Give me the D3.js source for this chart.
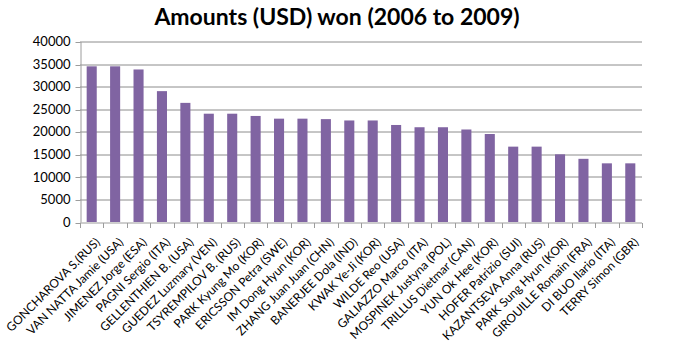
<!DOCTYPE html>
<html>
<head>
<meta charset="utf-8">
<script src="https://cdn.jsdelivr.net/npm/d3@7"></script>
<style>
  body { margin: 0; background: #fff; }
  text { font-family: Lato, "Open Sans", sans-serif; fill: #000; }
</style>
</head>
<body>
<div id="chart"></div>
<script>
const players = [
  'GONCHAROVA S.(RUS)', 'VAN NATTA Jamie (USA)', 'JIMENEZ Jorge (ESA)', 'PAGNI Sergio (ITA)',
  'GELLENTHIEN B. (USA)', 'GUEDEZ Luzmary (VEN)', 'TSYREMPILOV B. (RUS)', 'PARK Kyung Mo (KOR)',
  'ERICSSON Petra (SWE)', 'IM Dong Hyun (KOR)', 'ZHANG Juan Juan (CHN)', 'BANERJEE Dola (IND)',
  'KWAK Ye-Ji (KOR)', 'WILDE Reo (USA)', 'GALIAZZO Marco (ITA)', 'MOSPINEK Justyna (POL)',
  'TRILLUS Dietmar (CAN)', 'YUN Ok Hee (KOR)', 'HOFER Patrizio (SUI)', 'KAZANTSEVA Anna (RUS)',
  'PARK Sung Hyun (KOR)', 'GIROUILLE Romain (FRA)', 'DI BUO Ilario (ITA)', 'TERRY Simon (GBR)'
]
const amounts = [
  34500, 34500, 33800, 29000, 26400, 24000, 24000, 23500,
  22900, 22900, 22800, 22500, 22500, 21500, 21000, 21000,
  20500, 19500, 16700, 16700, 15000, 14000, 13000, 13000
]
const yTicks = [0, 5000, 10000, 15000, 20000, 25000, 30000, 35000, 40000]

const data = players.map((name, i) => ({ name, value: amounts[i] }))

const W = 677, H = 360
const margin = { top: 41.5, right: 35, bottom: 138, left: 80 }
const width = W - margin.left - margin.right
const height = H - margin.top - margin.bottom

const svg = d3.select('#chart').append('svg')
  .attr('width', W)
  .attr('height', H)

svg.append('text')
  .attr('x', 337)
  .attr('y', 25)
  .attr('text-anchor', 'middle')
  .style('font-size', '23px')
  .style('font-weight', 'bold')
  .text('Amounts (USD) won (2006 to 2009)')

const g = svg.append('g')
  .attr('transform', 'translate(' + margin.left + ',' + margin.top + ')')

const x = d3.scaleBand()
  .domain(players)
  .range([0, width])
  .paddingInner(0.57)
  .paddingOuter(0.285)

const xEdge = d3.scaleLinear().domain([0, players.length]).range([0, width])

const y = d3.scaleLinear()
  .domain([0, 40000])
  .range([height, 0])

// grid lines
g.append('g')
  .selectAll('line')
  .data(yTicks.filter(d => d > 0))
  .enter().append('line')
  .attr('x1', 0)
  .attr('x2', width)
  .attr('y1', d => Math.round(y(d)) + 0.5)
  .attr('y2', d => Math.round(y(d)) + 0.5)
  .attr('stroke', '#8c8c8c')
  .attr('stroke-width', 1)

// y axis
const yAxis = g.append('g')
  .attr('transform', 'translate(0.5,0)')
  .call(d3.axisLeft(y).tickValues(yTicks).tickFormat(d3.format('d')).tickSize(5).tickPadding(5).tickSizeOuter(0))
yAxis.select('.domain').attr('stroke', '#9c9c9c')
yAxis.selectAll('.tick line').attr('stroke', '#9c9c9c')
yAxis.selectAll('.tick line').attr('transform', d => 'translate(0,' + (Math.round(y(d)) + 0.5 - y(d)) + ')')
yAxis.selectAll('.tick text')
  .style('font-size', '13px')
  .style('font-family', 'Lato, sans-serif')
  .attr('fill', '#000')

// bars
g.append('g').selectAll('rect')
  .data(data)
  .enter().append('rect')
  .attr('x', d => x(d.name))
  .attr('y', d => y(d.value))
  .attr('width', x.bandwidth())
  .attr('height', d => height - y(d.value))
  .attr('fill', '#8064a2')

// x axis
const xAxis = g.append('g')
  .attr('transform', 'translate(0,' + (Math.round(height) + 0.5) + ')')
xAxis.append('line')
  .attr('x1', 0).attr('x2', width)
  .attr('stroke', '#9c9c9c')
xAxis.selectAll('line.tick')
  .data(d3.range(players.length + 1))
  .enter().append('line')
  .attr('class', 'tick')
  .attr('x1', d => Math.round(xEdge(d)) + 0.5)
  .attr('x2', d => Math.round(xEdge(d)) + 0.5)
  .attr('y1', 0).attr('y2', 5)
  .attr('stroke', '#9c9c9c')

xAxis.selectAll('text')
  .data(data)
  .enter().append('text')
  .attr('transform', d => 'translate(' + (x(d.name) + x.bandwidth() / 2 + 6) + ',17) rotate(-45)')
  .attr('text-anchor', 'end')
  .attr('dy', '0.35em')
  .style('font-size', '12px')
  .text(d => d.name)
</script>
</body>
</html>
